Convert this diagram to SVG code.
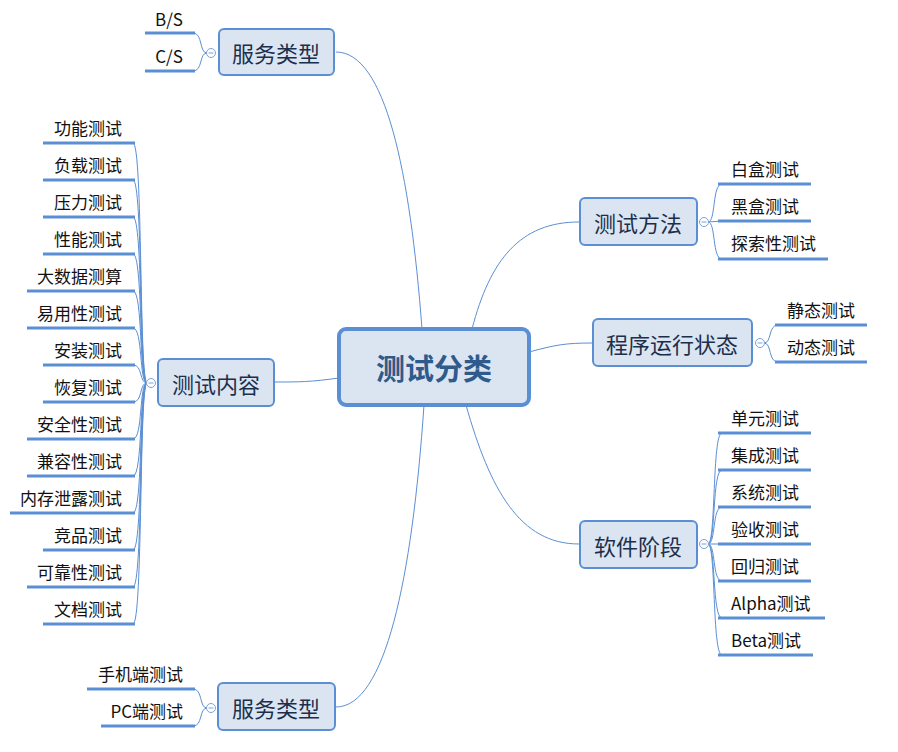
<svg xmlns="http://www.w3.org/2000/svg" width="898" height="752" viewBox="0 0 898 752">
<style>
text{font-family:"Noto Sans CJK SC","Microsoft YaHei",sans-serif;dominant-baseline:central}
.box{fill:#dbe5f1;stroke:#5b8fd4;stroke-width:2}
.main{fill:#dbe5f1;stroke:#5b8fd4;stroke-width:4}
.nt{font-size:22px;fill:#1b2f4d;text-anchor:middle}
.ct{font-size:29px;font-weight:bold;fill:#2f5a8c;text-anchor:middle}
.lt{font-size:17px;fill:#111;text-anchor:start}
.rt{font-size:17px;fill:#111;text-anchor:end}
.mt{font-size:17px;fill:#111;text-anchor:middle}
.ul{stroke:#5b8fd4;stroke-width:3;fill:none}
.cn{stroke:#5b8fd4;stroke-width:1;fill:none}
.cc{fill:#fff;stroke:#7da3d8;stroke-width:1}
.cm{stroke:#7da3d8;stroke-width:1}
</style>
<rect width="898" height="752" fill="#fff"/>
<g id="connectors">
<path class="cn" d="M422,329 C410,170 385,52 336,52"/>
<path class="cn" d="M424,405 C412,580 385,707 336,707"/>
<path class="cn" d="M472,329 C490,260 520,222 579,222"/>
<path class="cn" d="M466,405 C490,490 520,544 579,544"/>
<path class="cn" d="M529,352 C555,345 565,343 592,343"/>
<path class="cn" d="M339,378 C310,382 300,382 274,382"/>
<path class="cn" d="M207,53 C199,53 203,33 193,33"/>
<path class="cn" d="M207,53 C199,53 203,71 193,71"/>
<path class="cn" d="M207,708 C199,708 203,689 193,689"/>
<path class="cn" d="M207,708 C199,708 203,726 193,726"/>
<path class="cn" d="M708,222 C716,222 712,184 722,184"/>
<path class="cn" d="M708,222 L722,221"/>
<path class="cn" d="M708,222 C716,222 712,259 722,259"/>
<path class="cn" d="M764,343 C772,343 768,325 778,325"/>
<path class="cn" d="M764,343 C772,343 768,362 778,362"/>
<path class="cn" d="M708,544 C716,544 712,433 722,433"/>
<path class="cn" d="M708,544 C716,544 712,470 722,470"/>
<path class="cn" d="M708,544 C716,544 712,507 722,507"/>
<path class="cn" d="M708,544 L722,544"/>
<path class="cn" d="M708,544 C716,544 712,581 722,581"/>
<path class="cn" d="M708,544 C716,544 712,618 722,618"/>
<path class="cn" d="M708,544 C716,544 712,655 722,655"/>
<path class="cn" d="M147,383 C139,383 143,143 133,143"/>
<path class="cn" d="M147,383 C139,383 143,180 133,180"/>
<path class="cn" d="M147,383 C139,383 143,217 133,217"/>
<path class="cn" d="M147,383 C139,383 143,254 133,254"/>
<path class="cn" d="M147,383 C139,383 143,291 133,291"/>
<path class="cn" d="M147,383 C139,383 143,328 133,328"/>
<path class="cn" d="M147,383 C139,383 143,365 133,365"/>
<path class="cn" d="M147,383 C139,383 143,402 133,402"/>
<path class="cn" d="M147,383 C139,383 143,439 133,439"/>
<path class="cn" d="M147,383 C139,383 143,476 133,476"/>
<path class="cn" d="M147,383 C139,383 143,513 133,513"/>
<path class="cn" d="M147,383 C139,383 143,550 133,550"/>
<path class="cn" d="M147,383 C139,383 143,587 133,587"/>
<path class="cn" d="M147,383 C139,383 143,624 133,624"/>
</g>
<g id="root">
<rect class="main" x="339" y="329" width="190" height="76" rx="7"/>
<text class="ct" x="434" y="367">测试分类</text>
</g>
<g id="service-top">
<rect class="box" x="219" y="29" width="115" height="46" rx="5"/>
<text class="nt" x="276" y="52">服务类型</text>
<circle class="cc" cx="211" cy="53" r="4.5"/><line class="cm" x1="208.5" y1="53" x2="213.5" y2="53"/>
</g>
<g id="bs"><text class="mt" x="169" y="18">B/S</text><line class="ul" x1="145" y1="33" x2="195" y2="33"/></g>
<g id="cs"><text class="mt" x="169" y="55">C/S</text><line class="ul" x1="145" y1="71" x2="195" y2="71"/></g>
<g id="service-bottom">
<rect class="box" x="218" y="683" width="117" height="47" rx="5"/>
<text class="nt" x="276" y="707">服务类型</text>
<circle class="cc" cx="211" cy="708" r="4.5"/><line class="cm" x1="208.5" y1="708" x2="213.5" y2="708"/>
</g>
<g id="mobile"><text class="rt" x="183" y="673">手机端测试</text><line class="ul" x1="87" y1="689" x2="195" y2="689"/></g>
<g id="pc"><text class="rt" x="183" y="710">PC端测试</text><line class="ul" x1="101" y1="726" x2="195" y2="726"/></g>
<g id="method">
<rect class="box" x="580" y="198" width="117" height="47" rx="5"/>
<text class="nt" x="638" y="222">测试方法</text>
<circle class="cc" cx="704" cy="222" r="4.5"/><line class="cm" x1="701.5" y1="222" x2="706.5" y2="222"/>
</g>
<g id="white"><text class="lt" x="731" y="168">白盒测试</text><line class="ul" x1="718" y1="184" x2="811" y2="184"/></g>
<g id="black"><text class="lt" x="731" y="205">黑盒测试</text><line class="ul" x1="718" y1="221" x2="811" y2="221"/></g>
<g id="explore"><text class="lt" x="731" y="242">探索性测试</text><line class="ul" x1="718" y1="259" x2="828" y2="259"/></g>
<g id="state">
<rect class="box" x="593" y="319" width="159" height="47" rx="5"/>
<text class="nt" x="672" y="343">程序运行状态</text>
<circle class="cc" cx="760" cy="343" r="4.5"/><line class="cm" x1="757.5" y1="343" x2="762.5" y2="343"/>
</g>
<g id="static"><text class="lt" x="787" y="309">静态测试</text><line class="ul" x1="775" y1="325" x2="867" y2="325"/></g>
<g id="dynamic"><text class="lt" x="787" y="346">动态测试</text><line class="ul" x1="775" y1="362" x2="867" y2="362"/></g>
<g id="stage">
<rect class="box" x="580" y="521" width="117" height="47" rx="5"/>
<text class="nt" x="638" y="545">软件阶段</text>
<circle class="cc" cx="704" cy="544" r="4.5"/><line class="cm" x1="701.5" y1="544" x2="706.5" y2="544"/>
</g>
<g id="unit"><text class="lt" x="731" y="417">单元测试</text><line class="ul" x1="718" y1="433" x2="811" y2="433"/></g>
<g id="integration"><text class="lt" x="731" y="454">集成测试</text><line class="ul" x1="718" y1="470" x2="811" y2="470"/></g>
<g id="system"><text class="lt" x="731" y="491">系统测试</text><line class="ul" x1="718" y1="507" x2="811" y2="507"/></g>
<g id="acceptance"><text class="lt" x="731" y="528">验收测试</text><line class="ul" x1="718" y1="544" x2="811" y2="544"/></g>
<g id="regression"><text class="lt" x="731" y="565">回归测试</text><line class="ul" x1="718" y1="581" x2="811" y2="581"/></g>
<g id="alpha"><text class="lt" x="731" y="602">Alpha测试</text><line class="ul" x1="718" y1="618" x2="825" y2="618"/></g>
<g id="beta"><text class="lt" x="731" y="639">Beta测试</text><line class="ul" x1="718" y1="655" x2="813" y2="655"/></g>
<g id="content">
<rect class="box" x="158" y="359" width="116" height="47" rx="5"/>
<text class="nt" x="216" y="383">测试内容</text>
<circle class="cc" cx="151" cy="383" r="4.5"/><line class="cm" x1="148.5" y1="383" x2="153.5" y2="383"/>
</g>
<g id="c1"><text class="rt" x="122" y="127">功能测试</text><line class="ul" x1="43" y1="143" x2="135" y2="143"/></g>
<g id="c2"><text class="rt" x="122" y="164">负载测试</text><line class="ul" x1="43" y1="180" x2="135" y2="180"/></g>
<g id="c3"><text class="rt" x="122" y="201">压力测试</text><line class="ul" x1="43" y1="217" x2="135" y2="217"/></g>
<g id="c4"><text class="rt" x="122" y="238">性能测试</text><line class="ul" x1="43" y1="254" x2="135" y2="254"/></g>
<g id="c5"><text class="rt" x="122" y="275">大数据测算</text><line class="ul" x1="27" y1="291" x2="135" y2="291"/></g>
<g id="c6"><text class="rt" x="122" y="312">易用性测试</text><line class="ul" x1="27" y1="328" x2="135" y2="328"/></g>
<g id="c7"><text class="rt" x="122" y="349">安装测试</text><line class="ul" x1="43" y1="365" x2="135" y2="365"/></g>
<g id="c8"><text class="rt" x="122" y="386">恢复测试</text><line class="ul" x1="43" y1="402" x2="135" y2="402"/></g>
<g id="c9"><text class="rt" x="122" y="423">安全性测试</text><line class="ul" x1="27" y1="439" x2="135" y2="439"/></g>
<g id="c10"><text class="rt" x="122" y="460">兼容性测试</text><line class="ul" x1="27" y1="476" x2="135" y2="476"/></g>
<g id="c11"><text class="rt" x="122" y="497">内存泄露测试</text><line class="ul" x1="10" y1="513" x2="135" y2="513"/></g>
<g id="c12"><text class="rt" x="122" y="534">竞品测试</text><line class="ul" x1="43" y1="550" x2="135" y2="550"/></g>
<g id="c13"><text class="rt" x="122" y="571">可靠性测试</text><line class="ul" x1="27" y1="587" x2="135" y2="587"/></g>
<g id="c14"><text class="rt" x="122" y="608">文档测试</text><line class="ul" x1="43" y1="624" x2="135" y2="624"/></g>
</svg>
